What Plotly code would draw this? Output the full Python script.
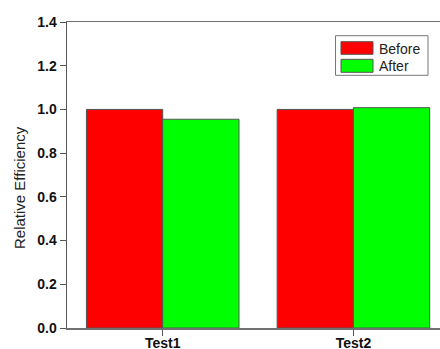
import plotly.graph_objects as go

categories = ["Test1", "Test2"]
series_names = ["Before", "After"]
before_values = [1.0, 1.0]
after_values = [0.955, 1.008]
series_colors = ["#FF0000", "#00FF00"]
y_ticks = [0.0, 0.2, 0.4, 0.6, 0.8, 1.0, 1.2, 1.4]
y_title = "Relative Efficiency"

FONT = "Arial, 'Liberation Sans', sans-serif"
W, H = 440, 349
ML, MR, MT, MB = 67, 0, 22, 21
PW, PH = W - ML - MR, H - MT - MB

fig = go.Figure()
for name, vals, col in zip(series_names, [before_values, after_values], series_colors):
    fig.add_trace(go.Bar(
        x=categories, y=vals, name=name,
        marker=dict(color=col, line=dict(color="#555555", width=1)),
        showlegend=False,
    ))

def px_x(p):
    return (p - ML) / PW

def px_y(p):
    return (H - MB - p) / PH

# custom legend (wide swatches like the original)
shapes = [dict(type="rect", xref="paper", yref="paper",
               x0=px_x(335.5), x1=px_x(428), y0=px_y(75.3), y1=px_y(35.7),
               line=dict(color="#777777", width=1), fillcolor="white")]
annotations = []
rows = [(41.7, 54.3), (59.3, 72.3)]
for (top, bot), name, col in zip(rows, series_names, series_colors):
    shapes.append(dict(type="rect", xref="paper", yref="paper",
                       x0=px_x(341), x1=px_x(373), y0=px_y(bot), y1=px_y(top),
                       line=dict(color="#555555", width=1), fillcolor=col))
    annotations.append(dict(xref="paper", yref="paper", x=px_x(377),
                            y=px_y((top + bot) / 2 + 0.5), text=name, showarrow=False,
                            xanchor="left", yanchor="middle",
                            font=dict(family=FONT, size=14, color="#222222")))

# y-axis title (placed like the original, slightly below plot centre)
annotations.append(dict(xref="paper", yref="paper", x=px_x(19.5), y=px_y(187.5),
                        text=y_title, textangle=-90, showarrow=False,
                        xanchor="center", yanchor="middle",
                        font=dict(family=FONT, size=15, color="#222222")))

fig.update_layout(
    template="none",
    width=W, height=H, autosize=False,
    margin=dict(l=ML, r=MR, t=MT, b=MB, pad=0, autoexpand=False),
    paper_bgcolor="white", plot_bgcolor="white",
    barmode="group", bargap=0.2, bargroupgap=0,
    shapes=shapes, annotations=annotations,
    showlegend=False,
    font=dict(family=FONT, color="#111111"),
)
fig.update_xaxes(
    range=[-0.502, 1.454], showgrid=False, zeroline=False, automargin=False,
    showline=True, mirror=True, linecolor="#707070", linewidth=1.5,
    ticks="outside", ticklen=6, tickwidth=1, tickcolor="#555555",
    ticklabelstandoff=-4,
    tickfont=dict(family=FONT, size=14, weight="bold", color="#111111"),
)
fig.update_yaxes(
    range=[0, 1.4], tickvals=y_ticks, tickformat=".1f", automargin=False,
    showgrid=False, zeroline=False,
    showline=True, mirror=False, linecolor="#555555", linewidth=1.5,
    ticks="outside", ticklen=6, tickwidth=1, tickcolor="#555555",
    tickfont=dict(family=FONT, size=14, weight="bold", color="#111111"),
)

fig.write_html("out.html", config={"displayModeBar": False, "staticPlot": True},
               post_script="document.body.style.margin='0';document.body.style.overflow='hidden';")
